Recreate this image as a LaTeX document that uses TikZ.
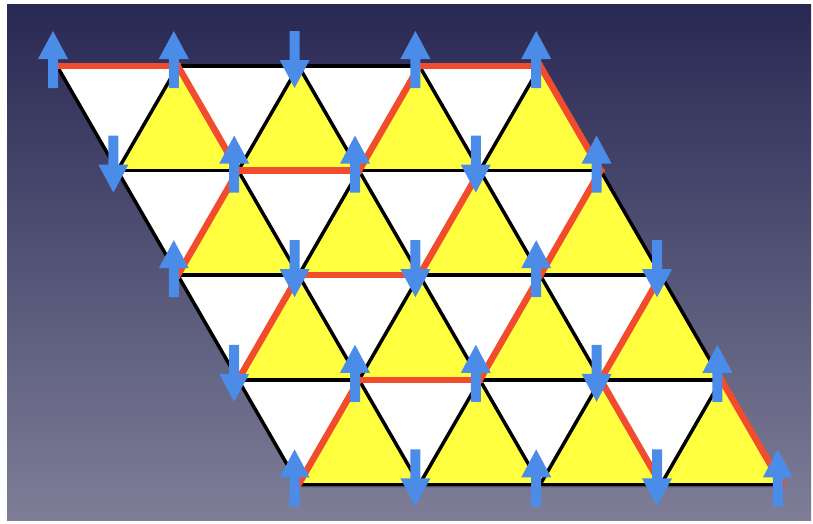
\documentclass[tikz,border=0pt]{standalone}
\usetikzlibrary{calc}
\definecolor{bgtop}{RGB}{40,40,84}
\definecolor{bgbot}{RGB}{126,126,152}
\definecolor{spinblue}{RGB}{74,140,232}
\definecolor{frusred}{RGB}{242,76,46}
\definecolor{triyellow}{RGB}{255,255,64}
\begin{document}
\begin{tikzpicture}[x=1pt,y=-1pt,
  bond/.style={line width=3.5pt, black, line cap=round},
  fbond/.style={line width=6.5pt, frusred, line cap=rect},
  uptri/.style={fill=triyellow},
  spinarrow/.style={fill=spinblue}]
\useasboundingbox (0,0) rectangle (813,523);
\fill[white] (0,0) rectangle (813,523);
\shade[top color=bgtop, bottom color=bgbot] (7,4) rectangle (811,520);
% lattice sites
\foreach \j in {0,...,4}
  \foreach \i in {0,...,4}
    \coordinate (v-\i-\j) at ({57+120.8*\i+60.4*\j},{66+104.6*\j});
% shadow and white down triangles
\fill[black,opacity=0.3] ([shift={(3,3)}]v-0-0) -- ([shift={(3,3)}]v-4-0) -- ([shift={(3,3)}]v-4-4) -- ([shift={(3,3)}]v-0-4) -- cycle;
\fill[white] (v-0-0) -- (v-4-0) -- (v-4-4) -- (v-0-4) -- cycle;
% yellow up triangles
\foreach \j in {0,...,3}{
  \pgfmathtruncatemacro{\jn}{\j+1}
  \foreach \i in {1,...,4}{
    \pgfmathtruncatemacro{\im}{\i-1}
    \fill[uptri] (v-\i-\j) -- (v-\im-\jn) -- (v-\i-\jn) -- cycle;
  }
}
% all bonds
\foreach \j in {0,...,4}
  \foreach \i in {0,...,3}{
    \pgfmathtruncatemacro{\ip}{\i+1}
    \draw[bond] (v-\i-\j) -- (v-\ip-\j);
  }
\foreach \j in {0,...,3}{
  \pgfmathtruncatemacro{\jn}{\j+1}
  \foreach \i in {0,...,4}
    \draw[bond] (v-\i-\j) -- (v-\i-\jn);
  \foreach \i in {1,...,4}{
    \pgfmathtruncatemacro{\im}{\i-1}
    \draw[bond] (v-\i-\j) -- (v-\im-\jn);
  }
}
% frustrated bonds
\foreach \a/\b in {0-0/1-0, 3-0/4-0, 1-1/2-1, 1-2/2-2, 1-3/2-3,
                   1-0/1-1, 4-0/4-1, 3-3/3-4, 4-3/4-4,
                   3-0/2-1, 1-1/0-2, 3-1/2-2, 4-1/3-2, 1-2/0-3,
                   3-2/2-3, 4-2/3-3, 1-3/0-4}
  \draw[fbond] (v-\a) -- (v-\b);
% spins
\foreach \s in {0-0,1-0,3-0,4-0, 1-1,2-1,4-1, 0-2,3-2, 1-3,2-3,4-3, 0-4,2-4,4-4}
  \fill[spinarrow, shift={(v-\s)}] (-9,22) -- (1,22) -- (1,-7) -- (11,-7) -- (-4,-35) -- (-19,-7) -- (-9,-7) -- cycle;
\foreach \s in {2-0, 0-1,3-1, 1-2,2-2,4-2, 0-3,3-3, 1-4,3-4}
  \fill[spinarrow, shift={(v-\s)}] (-9,-35) -- (1,-35) -- (1,-6) -- (11,-6) -- (-4,22) -- (-19,-6) -- (-9,-6) -- cycle;
\end{tikzpicture}
\end{document}
